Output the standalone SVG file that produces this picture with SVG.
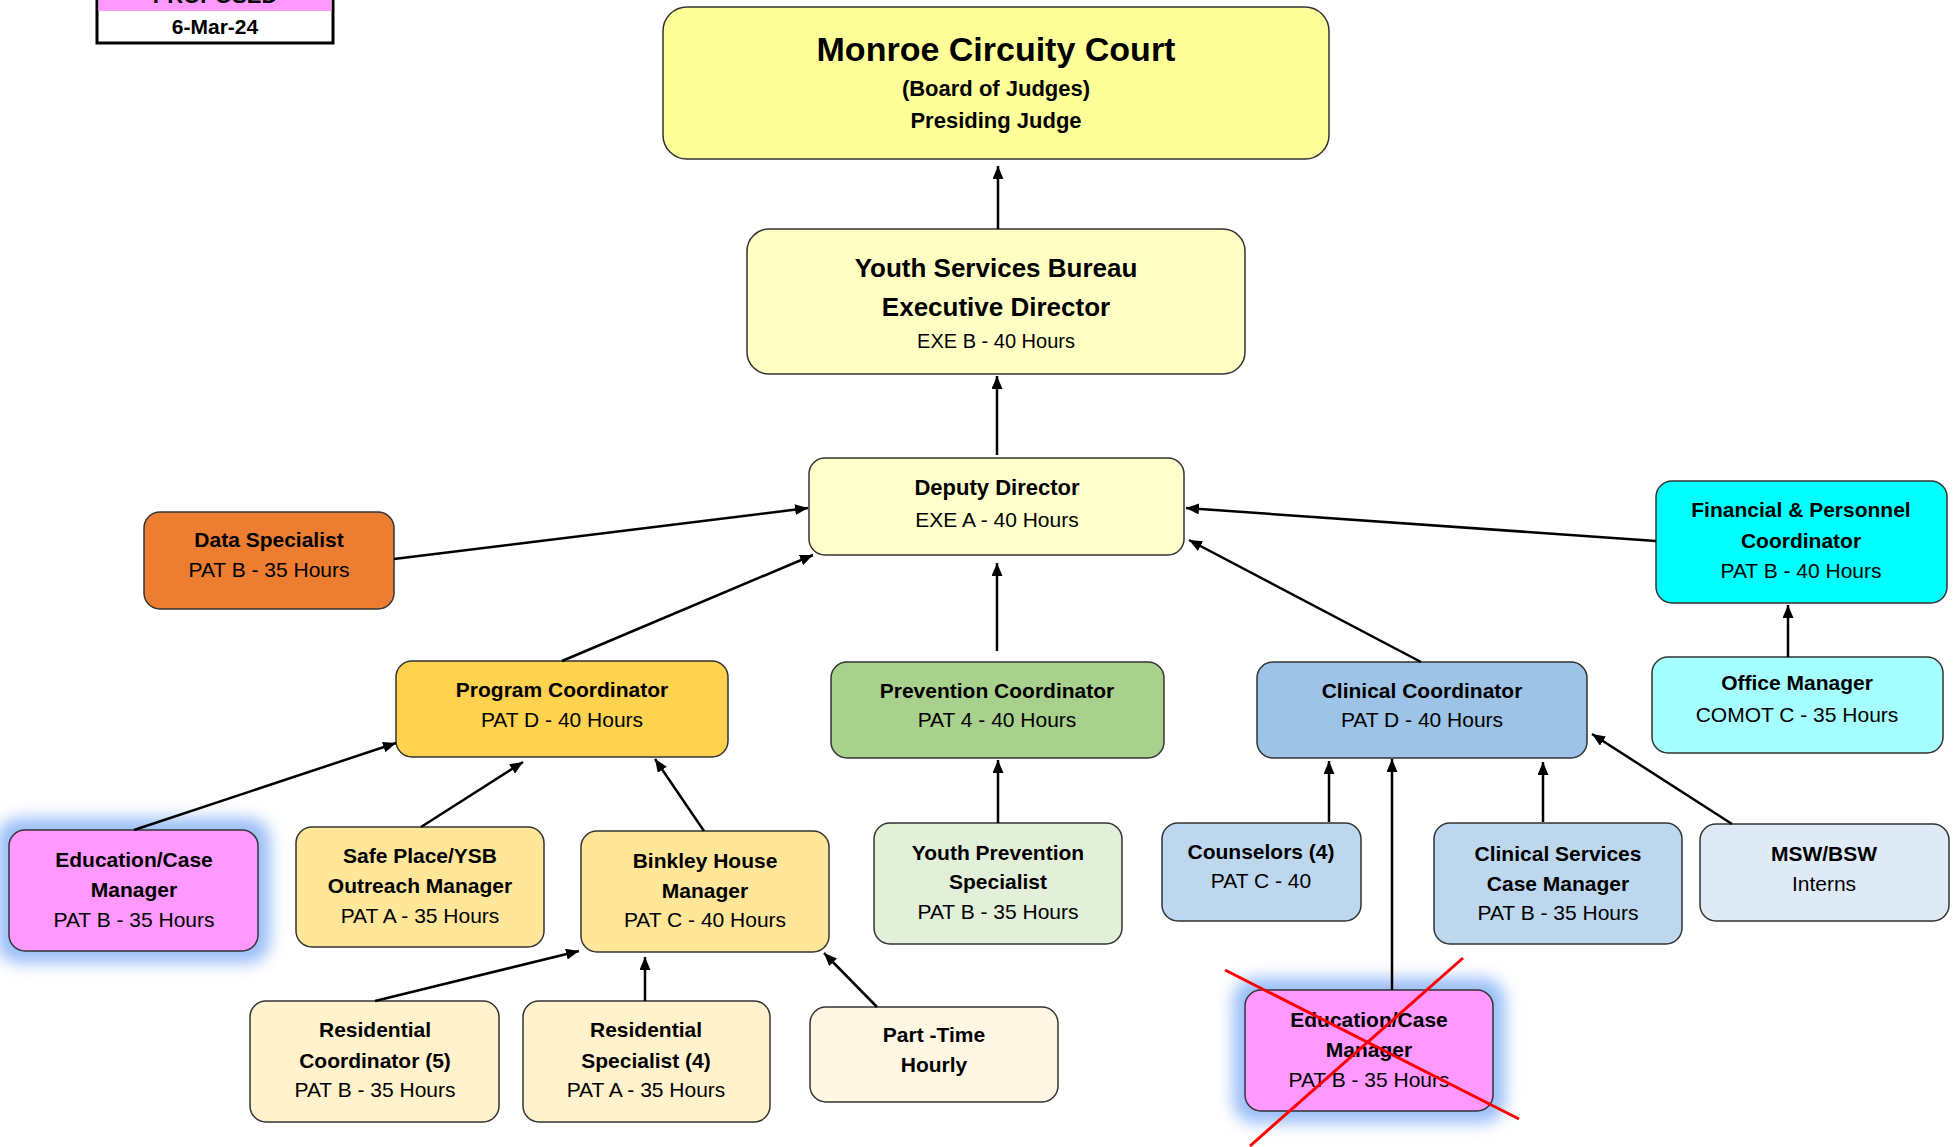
<svg xmlns="http://www.w3.org/2000/svg" width="1955" height="1147" viewBox="0 0 1955 1147">
<style>
text{font-family:"Liberation Sans",Arial,sans-serif;text-anchor:middle;fill:#000}
.t{font-weight:bold;font-size:21px}
.s{font-size:21px}
.box{stroke:#333;stroke-width:1.5}
.conn line{stroke:#000;stroke-width:2.5;marker-end:url(#ah)}
.glow{fill:#98BDF8;filter:url(#blur)}
</style>
<defs>
<marker id="ah" viewBox="0 0 13 11" refX="13" refY="5.5" markerWidth="13" markerHeight="11" markerUnits="userSpaceOnUse" orient="auto">
<path d="M0,0 L13,5.5 L0,11 z" fill="#000"/>
</marker>
<filter id="blur" x="-40%" y="-40%" width="180%" height="180%"><feGaussianBlur stdDeviation="8"/></filter>
</defs>

<g id="legend">
<rect x="97" y="-20" width="236" height="63" fill="#fff" stroke="#000" stroke-width="3"/>
<rect x="98.5" y="-20" width="233" height="31" fill="#FF99FF"/>
<text x="215" y="3" style="font-weight:bold;font-size:22px">PROPOSED</text>
<text x="215" y="34" style="font-weight:bold;font-size:21px">6-Mar-24</text>
</g>

<g id="monroe">
<rect class="box" x="663" y="7" width="666" height="152" rx="24" fill="#FFFF99"/>
<text x="996" y="61" style="font-weight:bold;font-size:34px">Monroe Circuity Court</text>
<text x="996" y="96" style="font-weight:bold;font-size:22px">(Board of Judges)</text>
<text x="996" y="128" style="font-weight:bold;font-size:22px">Presiding Judge</text>
</g>

<g id="youth-services">
<rect class="box" x="747" y="229" width="498" height="145" rx="22" fill="#FFFFC4"/>
<text x="996" y="277" style="font-weight:bold;font-size:26px">Youth Services Bureau</text>
<text x="996" y="316" style="font-weight:bold;font-size:26px">Executive Director</text>
<text x="996" y="348" style="font-size:20px">EXE B - 40 Hours</text>
</g>

<g id="deputy">
<rect class="box" x="809" y="458" width="375" height="97" rx="16" fill="#FFFFCC"/>
<text class="t" x="997" y="495" style="font-size:22px">Deputy Director</text>
<text class="s" x="997" y="527">EXE A - 40 Hours</text>
</g>

<g id="data-specialist">
<rect class="box" x="144" y="512" width="250" height="97" rx="16" fill="#ED7D31"/>
<text class="t" x="269" y="547">Data Specialist</text>
<text class="s" x="269" y="577">PAT B - 35 Hours</text>
</g>

<g id="financial">
<rect class="box" x="1656" y="481" width="291" height="122" rx="16" fill="#00FFFF"/>
<text class="t" x="1801" y="517">Financial &amp; Personnel</text>
<text class="t" x="1801" y="548">Coordinator</text>
<text class="s" x="1801" y="578">PAT B - 40 Hours</text>
</g>

<g id="office-manager">
<rect class="box" x="1652" y="657" width="291" height="96" rx="16" fill="#A6FFFF"/>
<text class="t" x="1797" y="690">Office Manager</text>
<text class="s" x="1797" y="722">COMOT C - 35 Hours</text>
</g>

<g id="program">
<rect class="box" x="396" y="661" width="332" height="96" rx="16" fill="#FFD34F"/>
<text class="t" x="562" y="697">Program Coordinator</text>
<text class="s" x="562" y="727">PAT D - 40 Hours</text>
</g>

<g id="prevention">
<rect class="box" x="831" y="662" width="333" height="96" rx="16" fill="#A9D18E"/>
<text class="t" x="997" y="698">Prevention Coordinator</text>
<text class="s" x="997" y="727">PAT 4 - 40 Hours</text>
</g>

<g id="clinical">
<rect class="box" x="1257" y="662" width="330" height="96" rx="16" fill="#9DC3E6"/>
<text class="t" x="1422" y="698">Clinical Coordinator</text>
<text class="s" x="1422" y="727">PAT D - 40 Hours</text>
</g>

<g id="edu-case-1">
<rect class="glow" x="-3" y="818" width="273" height="145" rx="22"/>
<rect class="box" x="9" y="830" width="249" height="121" rx="16" fill="#FF99FF"/>
<text class="t" x="134" y="867">Education/Case</text>
<text class="t" x="134" y="897">Manager</text>
<text class="s" x="134" y="927">PAT B - 35 Hours</text>
</g>

<g id="safe-place">
<rect class="box" x="296" y="827" width="248" height="120" rx="16" fill="#FFE699"/>
<text class="t" x="420" y="863">Safe Place/YSB</text>
<text class="t" x="420" y="893">Outreach Manager</text>
<text class="s" x="420" y="923">PAT A - 35 Hours</text>
</g>

<g id="binkley">
<rect class="box" x="581" y="831" width="248" height="121" rx="16" fill="#FFE699"/>
<text class="t" x="705" y="868">Binkley House</text>
<text class="t" x="705" y="898">Manager</text>
<text class="s" x="705" y="927">PAT C - 40 Hours</text>
</g>

<g id="youth-prevention">
<rect class="box" x="874" y="823" width="248" height="121" rx="16" fill="#E2F0D9"/>
<text class="t" x="998" y="860">Youth Prevention</text>
<text class="t" x="998" y="889">Specialist</text>
<text class="s" x="998" y="919">PAT B - 35 Hours</text>
</g>

<g id="counselors">
<rect class="box" x="1162" y="823" width="199" height="98" rx="16" fill="#BDD7EE"/>
<text class="t" x="1261" y="859">Counselors (4)</text>
<text class="s" x="1261" y="888">PAT C - 40</text>
</g>

<g id="clinical-services">
<rect class="box" x="1434" y="823" width="248" height="121" rx="16" fill="#BDD7EE"/>
<text class="t" x="1558" y="861">Clinical Services</text>
<text class="t" x="1558" y="891">Case Manager</text>
<text class="s" x="1558" y="920">PAT B - 35 Hours</text>
</g>

<g id="msw-bsw">
<rect class="box" x="1700" y="824" width="249" height="97" rx="16" fill="#DEEBF7"/>
<text class="t" x="1824" y="861">MSW/BSW</text>
<text class="s" x="1824" y="891">Interns</text>
</g>

<g id="residential-coordinator">
<rect class="box" x="250" y="1001" width="249" height="121" rx="16" fill="#FFF2CC"/>
<text class="t" x="375" y="1037">Residential</text>
<text class="t" x="375" y="1068">Coordinator (5)</text>
<text class="s" x="375" y="1097">PAT B - 35 Hours</text>
</g>

<g id="residential-specialist">
<rect class="box" x="523" y="1001" width="247" height="121" rx="16" fill="#FFF2CC"/>
<text class="t" x="646" y="1037">Residential</text>
<text class="t" x="646" y="1068">Specialist (4)</text>
<text class="s" x="646" y="1097">PAT A - 35 Hours</text>
</g>

<g id="part-time">
<rect class="box" x="810" y="1007" width="248" height="95" rx="16" fill="#FFF7E3"/>
<text class="t" x="934" y="1042">Part -Time</text>
<text class="t" x="934" y="1072">Hourly</text>
</g>

<g id="edu-case-2">
<rect class="glow" x="1233" y="978" width="272" height="145" rx="22"/>
<rect class="box" x="1245" y="990" width="248" height="121" rx="16" fill="#FF99FF"/>
<text class="t" x="1369" y="1027">Education/Case</text>
<text class="t" x="1369" y="1057">Manager</text>
<text class="s" x="1369" y="1087">PAT B - 35 Hours</text>
</g>

<g id="connectors" class="conn">
<line x1="998" y1="229" x2="998" y2="166"/>
<line x1="997" y1="455" x2="997" y2="376"/>
<line x1="394" y1="559" x2="808" y2="508"/>
<line x1="562" y1="661" x2="813" y2="555"/>
<line x1="997" y1="651" x2="997" y2="563"/>
<line x1="1421" y1="662" x2="1189" y2="540"/>
<line x1="1656" y1="541" x2="1186" y2="508"/>
<line x1="1788" y1="657" x2="1788" y2="605"/>
<line x1="134" y1="830" x2="396" y2="743"/>
<line x1="421" y1="827" x2="523" y2="762"/>
<line x1="704" y1="831" x2="655" y2="759"/>
<line x1="998" y1="823" x2="998" y2="760"/>
<line x1="1329" y1="822" x2="1329" y2="761"/>
<line x1="1392" y1="990" x2="1392" y2="759"/>
<line x1="1543" y1="822" x2="1543" y2="762"/>
<line x1="1732" y1="824" x2="1592" y2="734"/>
<line x1="375" y1="1001" x2="579" y2="951"/>
<line x1="645" y1="1001" x2="645" y2="957"/>
<line x1="877" y1="1007" x2="824" y2="953"/>
</g>

<g id="strike">
<line x1="1225" y1="970" x2="1519" y2="1119" stroke="#FF0000" stroke-width="3"/>
<line x1="1463" y1="958" x2="1250" y2="1146" stroke="#FF0000" stroke-width="3"/>
</g>
</svg>
